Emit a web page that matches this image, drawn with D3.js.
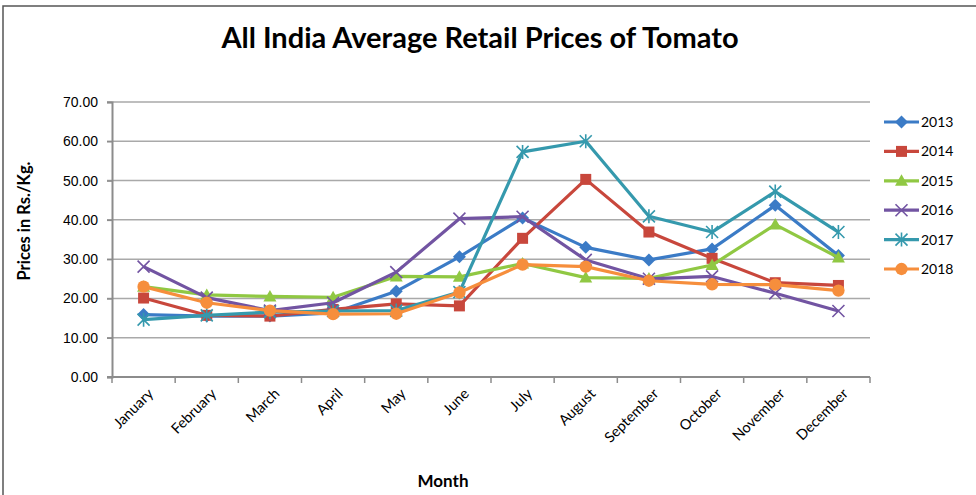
<!DOCTYPE html>
<html lang="en">
<head>
<meta charset="UTF-8">
<title>All India Average Retail Prices of Tomato</title>
<script src="https://cdnjs.cloudflare.com/ajax/libs/d3/7.8.5/d3.min.js"></script>
<style>
    body { margin: 0; background: #fff; }
    svg { display: block; font-family: "Lato", "Liberation Sans", sans-serif; }
    .tick text { fill: #000; }
</style>
</head>
<body>
<div id="chart"></div>
<script>
    const months = ["January", "February", "March", "April", "May", "June",
        "July", "August", "September", "October", "November", "December"];
    const years = ["2013", "2014", "2015", "2016", "2017", "2018"];
    const yTicks = [0, 10, 20, 30, 40, 50, 60, 70];

    const p2013 = [15.9, 15.5, 15.5, 16.3, 21.8, 30.6, 40.5, 33.0, 29.8, 32.6, 43.7, 30.9];
    const p2014 = [20.1, 15.7, 15.5, 17.2, 18.6, 18.1, 35.3, 50.3, 36.9, 30.2, 24.0, 23.3];
    const p2015 = [23.0, 20.9, 20.5, 20.3, 25.6, 25.5, 28.9, 25.3, 25.1, 28.5, 38.8, 30.4];
    const p2016 = [28.1, 20.2, 16.9, 18.9, 26.7, 40.3, 40.8, 29.8, 25.0, 25.6, 21.3, 16.8];
    const p2017 = [14.6, 15.7, 16.5, 16.8, 16.9, 21.6, 57.3, 60.0, 40.9, 36.9, 47.2, 36.9];
    const p2018 = [23.0, 18.9, 16.9, 16.0, 16.1, 21.5, 28.6, 28.1, 24.5, 23.6, 23.5, 22.0];

    const seriesValues = [p2013, p2014, p2015, p2016, p2017, p2018];
    const colors = ["#3b7bc6", "#c8473c", "#90c843", "#7254a2", "#3599ad", "#f68e3c"];
    const markers = ["diamond", "square", "triangle", "x", "star", "circle"];

    const width = 976, height = 495;
    const margin = { left: 112, right: 106, top: 102, bottom: 118 };

    const svg = d3.select("#chart").append("svg")
        .attr("width", width)
        .attr("height", height);

    // outer chart border (extends past the window on right/bottom)
    svg.append("rect")
        .attr("x", 3).attr("y", 6)
        .attr("width", 980).attr("height", 500)
        .attr("fill", "none")
        .attr("stroke", "#555")
        .attr("stroke-width", 1.5);

    const x = d3.scaleBand()
        .domain(months)
        .range([margin.left, width - margin.right]);

    const y = d3.scaleLinear()
        .domain([0, 70])
        .range([height - margin.bottom, margin.top]);

    // gridlines
    svg.append("g")
        .selectAll("line")
        .data(yTicks)
        .join("line")
        .attr("x1", margin.left - 5)
        .attr("x2", width - margin.right)
        .attr("y1", d => y(d))
        .attr("y2", d => y(d))
        .attr("stroke", d => d === 0 ? "#8c8c8c" : "#a9a9a9")
        .attr("stroke-width", d => d === 0 ? 2 : 1.5);

    // y axis
    const yAxis = svg.append("g")
        .attr("transform", `translate(${margin.left},0)`)
        .call(d3.axisLeft(y).tickValues(yTicks).tickFormat(d3.format(".2f")).tickSize(5).tickPadding(9));
    yAxis.select(".domain").attr("stroke", "#8c8c8c").attr("stroke-width", 2);
    yAxis.selectAll(".tick line").attr("stroke", "#8c8c8c").attr("stroke-width", 1.5);
    yAxis.selectAll(".tick text").style("font-size", "14px");

    // x axis ticks at category boundaries
    const xAxis = svg.append("g")
        .attr("transform", `translate(0,${y(0)})`);
    xAxis.selectAll("line")
        .data(months.concat(["end"]))
        .join("line")
        .attr("x1", (d, i) => margin.left + i * x.step())
        .attr("x2", (d, i) => margin.left + i * x.step())
        .attr("y1", 0).attr("y2", 6)
        .attr("stroke", "#8c8c8c")
        .attr("stroke-width", 1.5);
    xAxis.selectAll("text")
        .data(months)
        .join("text")
        .attr("transform", d => `translate(${x(d) + x.bandwidth() / 2 + 7},${14}) rotate(-45)`)
        .attr("text-anchor", "end")
        .attr("dy", "0.35em")
        .style("font-size", "14.5px")
        .text(d => d);

    // marker shapes
    function markerPath(type) {
        if (type === "diamond") return "M0,-6.5L6.5,0L0,6.5L-6.5,0Z";
        if (type === "square") return "M-5.5,-5.5H5.5V5.5H-5.5Z";
        if (type === "triangle") return "M0,-6.5L6.5,5L-6.5,5Z";
        if (type === "circle") return d3.symbol(d3.symbolCircle, 120)();
        if (type === "x") return "M-6,-6L6,6M6,-6L-6,6";
        return "M-6,-6L6,6M6,-6L-6,6M0,-7V7";
    }
    const stroked = t => t === "x" || t === "star";

    const line = d3.line()
        .x((d, i) => x(months[i]) + x.bandwidth() / 2)
        .y(d => y(d));

    seriesValues.forEach((vals, s) => {
        const g = svg.append("g");
        g.append("path")
            .attr("d", line(vals))
            .attr("fill", "none")
            .attr("stroke", colors[s])
            .attr("stroke-width", 3.2)
            .attr("stroke-linejoin", "round");
        g.selectAll("path.m")
            .data(vals)
            .join("path")
            .attr("class", "m")
            .attr("transform", (d, i) => `translate(${x(months[i]) + x.bandwidth() / 2},${y(d)})`)
            .attr("d", markerPath(markers[s]))
            .attr("fill", stroked(markers[s]) ? "none" : colors[s])
            .attr("stroke", stroked(markers[s]) ? colors[s] : "none")
            .attr("stroke-width", 1.6);
    });

    // legend
    const legend = svg.append("g").attr("transform", "translate(884,122)");
    years.forEach((yr, i) => {
        const lg = legend.append("g").attr("transform", `translate(0,${i * 29.4})`);
        lg.append("line")
            .attr("x1", 0).attr("x2", 35)
            .attr("stroke", colors[i]).attr("stroke-width", 3.2);
        lg.append("path")
            .attr("transform", "translate(17.5,0)")
            .attr("d", markerPath(markers[i]))
            .attr("fill", stroked(markers[i]) ? "none" : colors[i])
            .attr("stroke", stroked(markers[i]) ? colors[i] : "none")
            .attr("stroke-width", 1.6);
        lg.append("text")
            .attr("x", 37).attr("dy", "0.35em")
            .style("font-size", "14px")
            .text(yr);
    });

    // title
    svg.append("text")
        .attr("x", 480).attr("y", 48)
        .attr("text-anchor", "middle")
        .style("font-size", "29px")
        .style("font-weight", "bold")
        .text("All India Average Retail Prices of Tomato");

    // axis titles
    svg.append("text")
        .attr("transform", "translate(30,221) rotate(-90)")
        .attr("text-anchor", "middle")
        .style("font-size", "16.5px")
        .style("font-weight", "bold")
        .text("Prices in Rs./Kg.");

    svg.append("text")
        .attr("x", 443).attr("y", 487)
        .attr("text-anchor", "middle")
        .style("font-size", "17px")
        .style("font-weight", "bold")
        .text("Month");
</script>
</body>
</html>
